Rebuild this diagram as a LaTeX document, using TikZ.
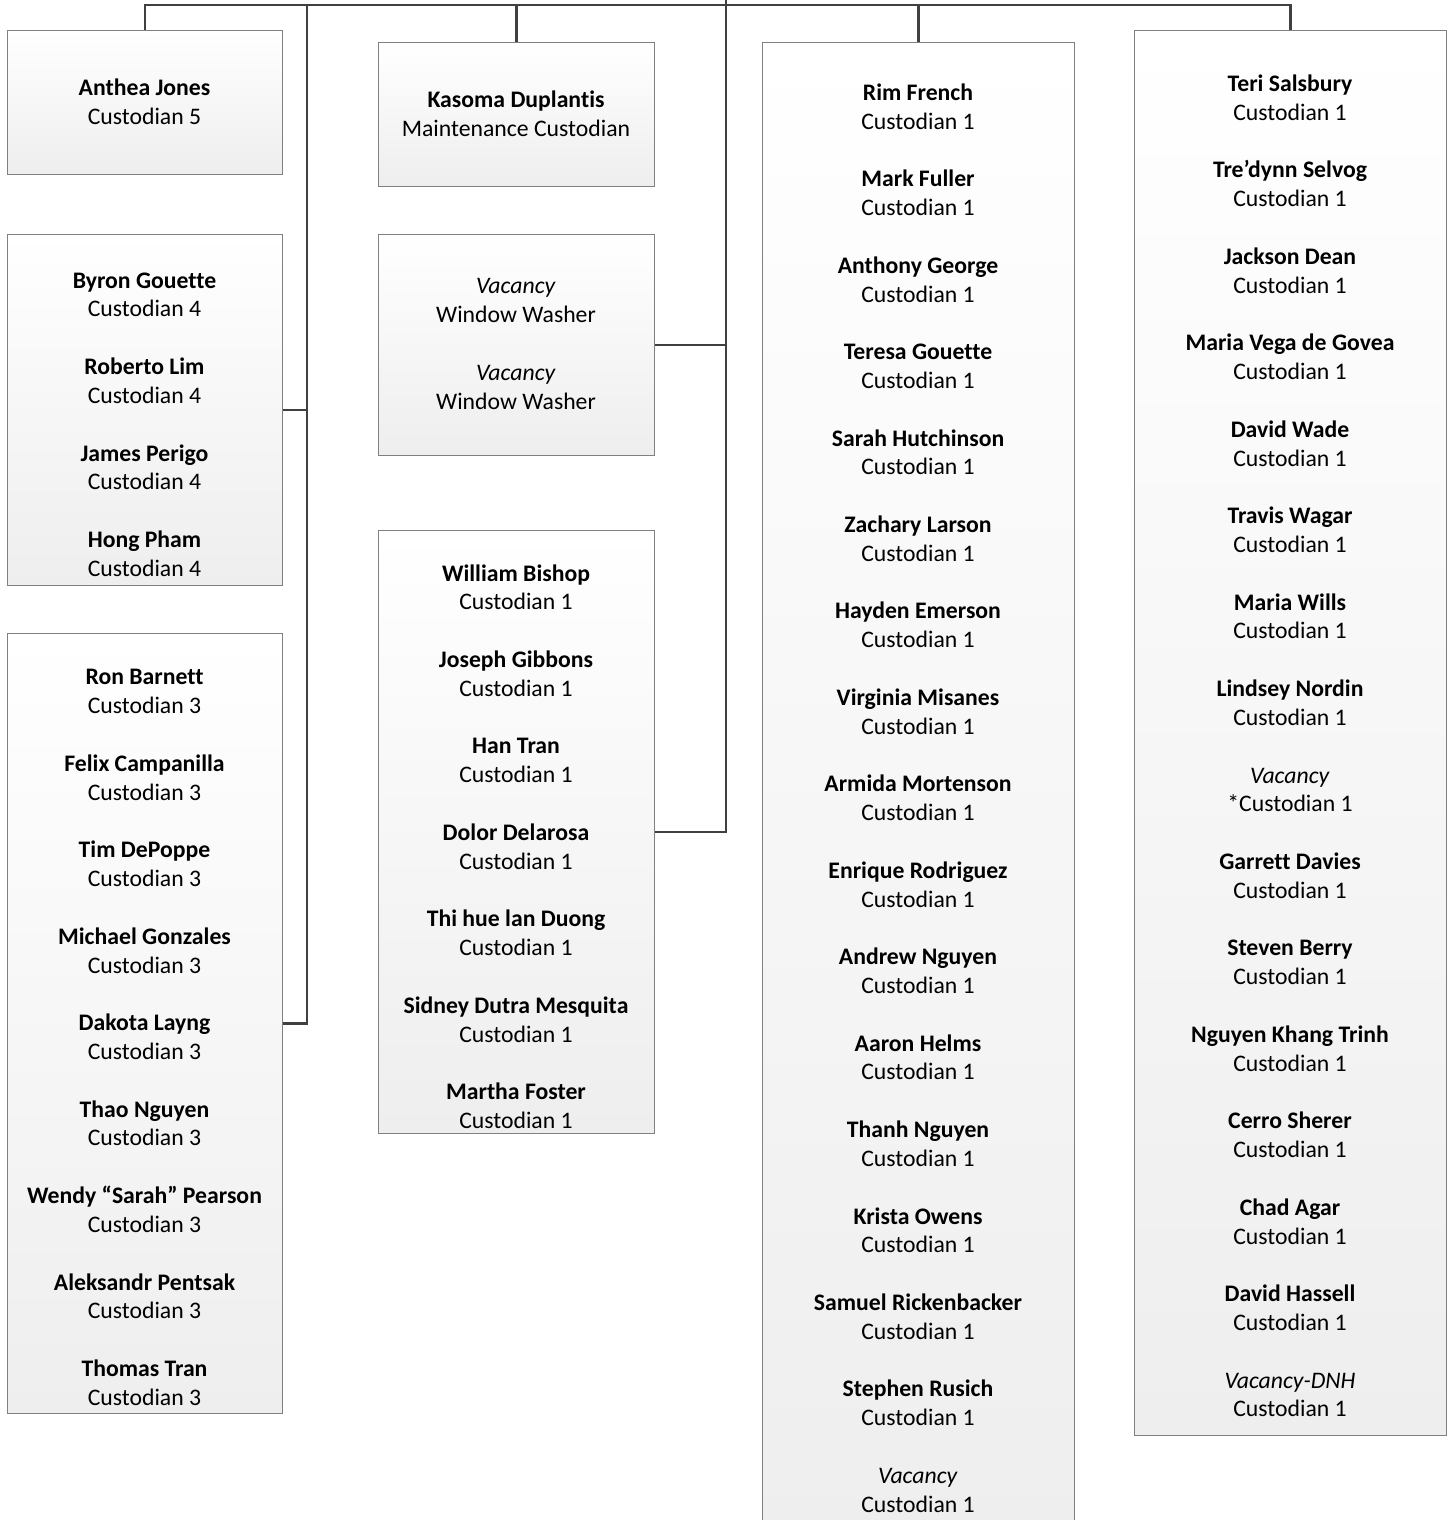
\documentclass[tikz,border=0pt]{standalone}
\usepackage{fontspec}
\setmainfont{Carlito}[Ligatures={NoCommon,TeX}]
\usepackage{tikz}
\usetikzlibrary{positioning,calc}
\definecolor{boxline}{RGB}{128,128,128}
\definecolor{boxbottom}{RGB}{238,238,238}
\definecolor{linkgray}{RGB}{64,64,64}
\newcommand{\staff}[2]{\textbf{#1}\\#2}
\newcommand{\vacant}[2]{\textit{#1}\\#2}

\begin{document}
\begin{tikzpicture}[
    x=0.02cm, y=-0.02cm,
    box/.style={rectangle, draw=boxline, line width=0.6pt, top color=white, bottom color=boxbottom, anchor=north west, inner sep=0pt},
    names/.style={align=center, inner sep=0pt, font=\fontsize{13.5}{16.4}\selectfont},
    link/.style={draw=linkgray, line width=1.2pt}
]
    \useasboundingbox (0,0) rectangle (1452,1520);

    \node[box, minimum width=5.5cm, minimum height=2.88cm] (A) at (7,30) {};
    \node[box, minimum width=5.5cm, minimum height=7.02cm] (B) at (7,234) {};
    \node[box, minimum width=5.5cm, minimum height=15.6cm] (C) at (7,633) {};
    \node[box, minimum width=5.52cm, minimum height=2.88cm] (D) at (378,42) {};
    \node[box, minimum width=5.52cm, minimum height=4.42cm] (E) at (378,234) {};
    \node[box, minimum width=5.52cm, minimum height=12.06cm] (F) at (378,530) {};
    \node[box, minimum width=6.24cm, minimum height=30cm] (G) at (762,42) {};
    \node[box, minimum width=6.24cm, minimum height=28.1cm] (H) at (1134,30) {};

    \node[names] (A-list) at (144.5,102) {\staff{Anthea Jones}{Custodian 5}};
    \node[names] (B-list) at (144.5,424.5) {\staff{Byron Gouette}{Custodian 4}\\[16.4pt]
        \staff{Roberto Lim}{Custodian 4}\\[16.4pt]
        \staff{James Perigo}{Custodian 4}\\[16.4pt]
        \staff{Hong Pham}{Custodian 4}};
    \node[names] (C-list) at (144.5,1037.5) {\staff{Ron Barnett}{Custodian 3}\\[16.4pt]
        \staff{Felix Campanilla}{Custodian 3}\\[16.4pt]
        \staff{Tim DePoppe}{Custodian 3}\\[16.4pt]
        \staff{Michael Gonzales}{Custodian 3}\\[16.4pt]
        \staff{Dakota Layng}{Custodian 3}\\[16.4pt]
        \staff{Thao Nguyen}{Custodian 3}\\[16.4pt]
        \staff{Wendy “Sarah” Pearson}{Custodian 3}\\[16.4pt]
        \staff{Aleksandr Pentsak}{Custodian 3}\\[16.4pt]
        \staff{Thomas Tran}{Custodian 3}};
    \node[names] (D-list) at (516,114) {\staff{Kasoma Duplantis}{Maintenance Custodian}};
    \node[names] (E-list) at (516,344) {\vacant{Vacancy}{Window Washer}\\[16.4pt]
        \vacant{Vacancy}{Window Washer}};
    \node[names] (F-list) at (516,846.5) {\staff{William Bishop}{Custodian 1}\\[16.4pt]
        \staff{Joseph Gibbons}{Custodian 1}\\[16.4pt]
        \staff{Han Tran}{Custodian 1}\\[16.4pt]
        \staff{Dolor Delarosa}{Custodian 1}\\[16.4pt]
        \staff{Thi hue lan Duong}{Custodian 1}\\[16.4pt]
        \staff{Sidney Dutra Mesquita}{Custodian 1}\\[16.4pt]
        \staff{Martha Foster}{Custodian 1}};
    \node[names] (G-list) at (918,798) {\staff{Rim French}{Custodian 1}\\[16.4pt]
        \staff{Mark Fuller}{Custodian 1}\\[16.4pt]
        \staff{Anthony George}{Custodian 1}\\[16.4pt]
        \staff{Teresa Gouette}{Custodian 1}\\[16.4pt]
        \staff{Sarah Hutchinson}{Custodian 1}\\[16.4pt]
        \staff{Zachary Larson}{Custodian 1}\\[16.4pt]
        \staff{Hayden Emerson}{Custodian 1}\\[16.4pt]
        \staff{Virginia Misanes}{Custodian 1}\\[16.4pt]
        \staff{Armida Mortenson}{Custodian 1}\\[16.4pt]
        \staff{Enrique Rodriguez}{Custodian 1}\\[16.4pt]
        \staff{Andrew Nguyen}{Custodian 1}\\[16.4pt]
        \staff{Aaron Helms}{Custodian 1}\\[16.4pt]
        \staff{Thanh Nguyen}{Custodian 1}\\[16.4pt]
        \staff{Krista Owens}{Custodian 1}\\[16.4pt]
        \staff{Samuel Rickenbacker}{Custodian 1}\\[16.4pt]
        \staff{Stephen Rusich}{Custodian 1}\\[16.4pt]
        \vacant{Vacancy}{Custodian 1}};
    \node[names] (H-list) at (1290,746) {\staff{Teri Salsbury}{Custodian 1}\\[16.4pt]
        \staff{Tre’dynn Selvog}{Custodian 1}\\[16.4pt]
        \staff{Jackson Dean}{Custodian 1}\\[16.4pt]
        \staff{Maria Vega de Govea}{Custodian 1}\\[16.4pt]
        \staff{David Wade}{Custodian 1}\\[16.4pt]
        \staff{Travis Wagar}{Custodian 1}\\[16.4pt]
        \staff{Maria Wills}{Custodian 1}\\[16.4pt]
        \staff{Lindsey Nordin}{Custodian 1}\\[16.4pt]
        \vacant{Vacancy}{*Custodian 1}\\[16.4pt]
        \staff{Garrett Davies}{Custodian 1}\\[16.4pt]
        \staff{Steven Berry}{Custodian 1}\\[16.4pt]
        \staff{Nguyen Khang Trinh}{Custodian 1}\\[16.4pt]
        \staff{Cerro Sherer}{Custodian 1}\\[16.4pt]
        \staff{Chad Agar}{Custodian 1}\\[16.4pt]
        \staff{David Hassell}{Custodian 1}\\[16.4pt]
        \vacant{Vacancy-DNH}{Custodian 1}};

    \coordinate (root) at (726,0);
    \coordinate (bus) at (726,5);

    \draw[link] (root) -- (bus) -| (A.north);
    \draw[link] (bus) -| (D.north);
    \draw[link] (bus) -| (G.north);
    \draw[link] (bus) -| (H.north);
    \draw[link] (bus) -| ([xshift=0.48cm]B.east) -- (B.east);
    \draw[link] (bus) -| ([xshift=0.48cm]C.east) -- (C.east);
    \draw[link] (bus) |- (E.east);
    \draw[link] (bus) |- (F.east);
\end{tikzpicture}
\end{document}
